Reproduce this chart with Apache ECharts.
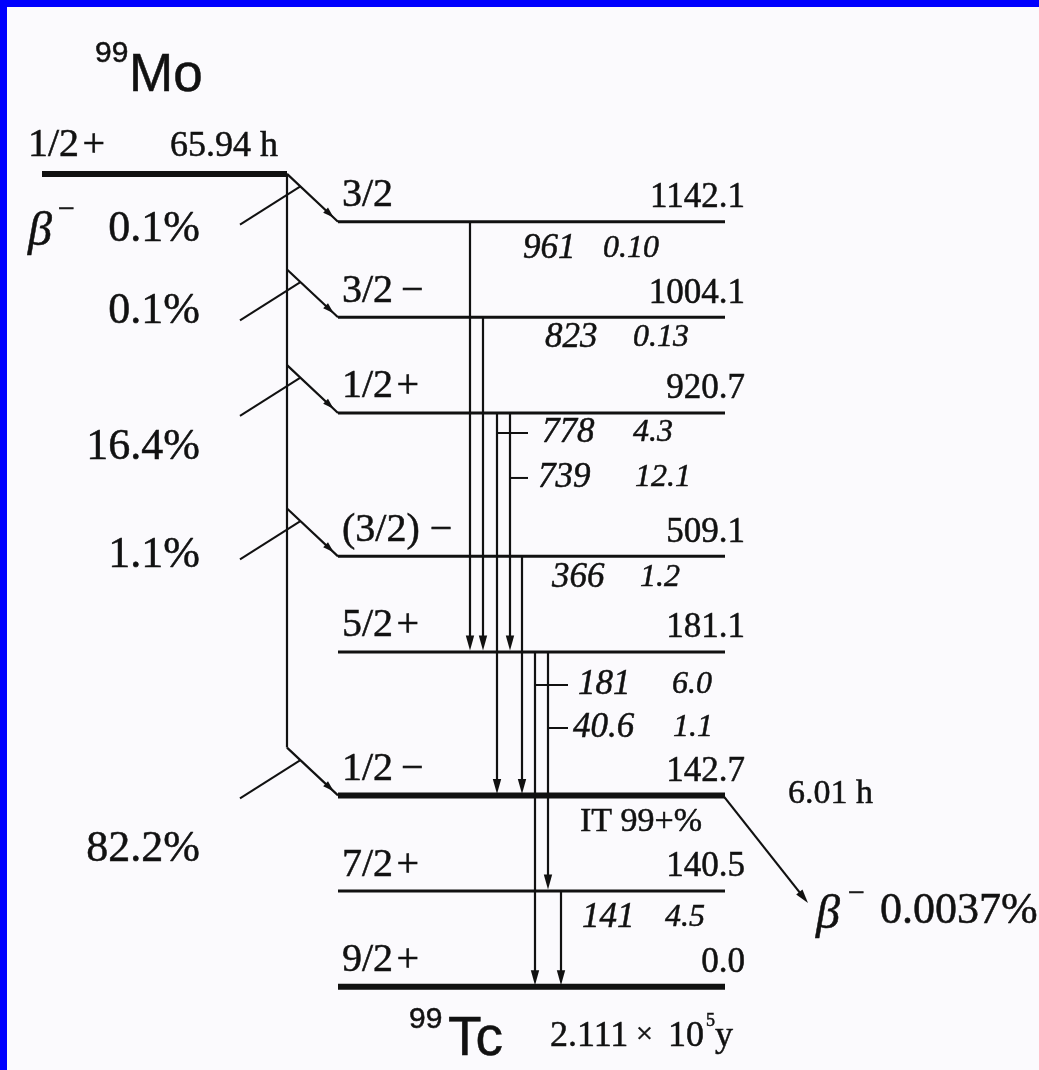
<!DOCTYPE html>
<html>
<head>
<meta charset="utf-8">
<script src="https://cdn.jsdelivr.net/npm/echarts@6/dist/echarts.min.js"></script>
<style>
html,body{margin:0;padding:0;background:#fbfafd;overflow:hidden;}
#chart{position:absolute;left:0;top:0;width:1039px;height:1070px;}
.bl{position:absolute;left:0;top:0;width:7px;height:1070px;background:#0000fe;}
.bt{position:absolute;left:0;top:0;width:1039px;height:7px;background:#0000fe;}
</style>
</head>
<body>
<div id="chart"></div><div class="bl"></div><div class="bt"></div>
<script>
// ---------------- data ----------------
const parentInfo = ['99', 'Mo', '1/2\u200a+', '65.94 h'];
const daughterInfo = ['99', 'Tc', '2.111', '×', '10', '5', 'y'];
const levelEnergy = ['1142.1', '1004.1', '920.7', '509.1', '181.1', '142.7', '140.5', '0.0'];
const levelSpin = ['3/2', '3/2\u2009−', '1/2\u200a+', '(3/2) −', '5/2\u200a+', '1/2\u2009−', '7/2\u200a+', '9/2\u200a+'];
const betaLevel = [0, 1, 2, 3, 5];
const betaFeeding = ['0.1%', '0.1%', '16.4%', '1.1%', '82.2%'];
const gammaFrom = [0, 1, 2, 2, 3, 4, 4, 6];
const gammaTo = [4, 4, 5, 4, 5, 7, 6, 7];
const gammaEnergy = ['961', '823', '778', '739', '366', '181', '40.6', '141'];
const gammaIntensity = ['0.10', '0.13', '4.3', '12.1', '1.2', '6.0', '1.1', '4.5'];
const isomerInfo = ['6.01 h', 'IT 99+%', '0.0037%'];

// ---------------- layout (schematic slots) ----------------
const levelRow = [0, 2, 4, 7, 9, 12, 14, 16];
const parentRow = -1;
const levelThick = [false, false, false, false, false, true, false, true];
const levelX = [338, 725];
const parentX = [42, 287];
const gammaCol = [470, 483, 497, 510, 522, 535, 548, 561];
const gammaLabelRow = [0.57, 2.43, 4.42, 5.36, 7.45, 9.69, 10.59, 14.56];
const gammaLabelX = [523, 545, 542, 538, 552, 578, 573, 582];
const gammaIntX = [603, 633, 633, 635, 640, 672, 673, 665];
const gammaTickEnd = [null, null, 528, 528, null, 568, 568, null];
const betaLabelRow = [0.17, 1.87, 4.72, 6.99, 13.12];
const betaLabelX = 200;
const isoArrowEnd = [808, 14.25];

const PX_PER_ROW = 47.81, ROW0_PX = 221.7, H = 1070;
const Y_MIN = -ROW0_PX / PX_PER_ROW, Y_MAX = (H - ROW0_PX) / PX_PER_ROW;

const INK = '#111111';
const SERIF = '"Liberation Serif", "Times New Roman", serif';
const SANS = '"Liberation Sans", Arial, sans-serif';

function seg(a, b, w) {
  return { type: 'line', shape: { x1: a[0], y1: a[1], x2: b[0], y2: b[1] }, style: { stroke: INK, lineWidth: w, lineCap: 'butt' } };
}
function arrowHead(tip, dir, len, half) {
  const bx = tip[0] - dir[0] * len, by = tip[1] - dir[1] * len;
  const nx = -dir[1], ny = dir[0];
  return { type: 'polygon', shape: { points: [tip, [bx + nx * half, by + ny * half], [bx - nx * half, by - ny * half]] }, style: { fill: INK } };
}
function txt(x, y, s, size, o) {
  o = o || {};
  return { type: 'text', x: x, y: y, style: { text: s, fill: INK, stroke: INK, lineWidth: 0.5, fontSize: size, fontFamily: o.family || SERIF,
    fontStyle: o.italic ? 'italic' : 'normal', align: o.align || 'left', verticalAlign: 'middle' } };
}
function unit(a, b) { const dx = b[0] - a[0], dy = b[1] - a[1], l = Math.hypot(dx, dy); return [dx / l, dy / l]; }

const chart = echarts.init(document.getElementById('chart'), null, { renderer: 'canvas' });

const option = {
  backgroundColor: '#fbfafd',
  animation: false,
  grid: { left: 0, right: 0, top: 0, bottom: 0 },
  xAxis: { type: 'value', min: 0, max: 1039, show: false },
  yAxis: { type: 'value', min: Y_MIN, max: Y_MAX, inverse: true, show: false },
  series: [
    { // daughter levels
      type: 'custom', name: 'levels', clip: false,
      data: levelEnergy.map((e, i) => [levelX[0], levelRow[i], i]),
      renderItem: function (params, api) {
        const i = api.value(2);
        const p1 = api.coord([levelX[0], levelRow[i]]);
        const p2 = api.coord([levelX[1], levelRow[i]]);
        return { type: 'group', children: [
          seg(p1, p2, levelThick[i] ? 6 : 3),
          txt(p1[0] + 4, p1[1] - 26, levelSpin[i], 40),
          txt(p2[0] + 20, p1[1] - 24, levelEnergy[i], 35, { align: 'right' })
        ] };
      }
    },
    { // parent level + titles
      type: 'custom', name: 'parent', clip: false,
      data: [[parentX[0], parentRow, 0]],
      renderItem: function (params, api) {
        const p1 = api.coord([parentX[0], parentRow]);
        const p2 = api.coord([parentX[1], parentRow]);
        const tc = api.coord([levelX[0], levelRow[7]]);
        return { type: 'group', children: [
          seg(p1, p2, 6),
          txt(28, p1[1] - 28, parentInfo[2], 40),
          txt(170, p1[1] - 27, parentInfo[3], 36),
          txt(95, p1[1] - 120, parentInfo[0], 30, { family: SANS }),
          txt(129, p1[1] - 97, parentInfo[1], 53, { family: SANS }),
          txt(409, tc[1] + 33, daughterInfo[0], 30, { family: SANS }),
          txt(448, tc[1] + 53, daughterInfo[1], 55, { family: SANS }),
          txt(550, tc[1] + 50, daughterInfo[2], 36),
          txt(636, tc[1] + 48, daughterInfo[3], 30),
          txt(668, tc[1] + 50, daughterInfo[4], 36),
          txt(706, tc[1] + 35, daughterInfo[5], 18),
          txt(715, tc[1] + 50, daughterInfo[6], 36)
        ] };
      }
    },
    { // beta branches
      type: 'custom', name: 'beta', clip: false,
      data: betaLevel.map((l, k) => [parentX[1], levelRow[l], k]),
      renderItem: function (params, api) {
        const k = api.value(2);
        const row = levelRow[betaLevel[k]];
        const start = api.coord([parentX[1], row - 1]);
        const end = api.coord([levelX[0], row]);
        const d = unit(start, end);
        const tip = [end[0] - d[0] * 6, end[1] - d[1] * 6];
        const lab = api.coord([betaLabelX, betaLabelRow[k]]);
        const ch = [
          seg(start, end, 2.2),
          arrowHead(tip, d, 11, 3.5),
          seg([end[0] - 98, end[1] + 3], [end[0] - 38, end[1] - 35], 2),
          txt(lab[0], lab[1], betaFeeding[k], 44, { align: 'right' })
        ];
        if (k === 0) {
          const top = api.coord([parentX[1], parentRow]);
          const bottom = api.coord([parentX[1], levelRow[betaLevel[betaLevel.length - 1]] - 1]);
          ch.push(seg(top, bottom, 2.2));
          ch.push(txt(28, lab[1] + 3, 'β', 48, { italic: true }));
          ch.push(txt(58, lab[1] - 20, '−', 30));
        }
        return { type: 'group', children: ch };
      }
    },
    { // gamma transitions
      type: 'custom', name: 'gamma', clip: false,
      data: gammaEnergy.map((g, i) => [gammaCol[i], levelRow[gammaFrom[i]], i]),
      renderItem: function (params, api) {
        const i = api.value(2);
        const top = api.coord([gammaCol[i], levelRow[gammaFrom[i]]]);
        const bot = api.coord([gammaCol[i], levelRow[gammaTo[i]]]);
        const tip = [bot[0], bot[1] - 1.5];
        const lab = api.coord([gammaLabelX[i], gammaLabelRow[i]]);
        const ix = api.coord([gammaIntX[i], gammaLabelRow[i]]);
        const ch = [
          seg(top, [tip[0], tip[1] - 10], 2.2),
          arrowHead(tip, [0, 1], 15, 4.2),
          txt(lab[0], lab[1], gammaEnergy[i], 35, { italic: true }),
          txt(ix[0], ix[1], gammaIntensity[i], 32, { italic: true })
        ];
        if (gammaTickEnd[i] !== null) {
          const te = api.coord([gammaTickEnd[i], gammaLabelRow[i]]);
          ch.push(seg([top[0], lab[1]], te, 2));
        }
        return { type: 'group', children: ch };
      }
    },
    { // isomer decay
      type: 'custom', name: 'isomer', clip: false,
      data: [[levelX[1], levelRow[5], 0]],
      renderItem: function (params, api) {
        const s = api.coord([levelX[1] - 2, levelRow[5]]);
        const e = api.coord(isoArrowEnd);
        const d = unit(s, e);
        return { type: 'group', children: [
          seg(s, [e[0] - d[0] * 10, e[1] - d[1] * 10], 2.2),
          arrowHead(e, d, 14, 4),
          txt(788, s[1] - 1, isomerInfo[0], 34),
          txt(580, s[1] + 27, isomerInfo[1], 34),
          txt(816, e[1] + 12, 'β', 48, { italic: true }),
          txt(848, e[1] - 9, '−', 30),
          txt(880, e[1] + 8, isomerInfo[2], 44)
        ] };
      }
    }
  ]
};
chart.setOption(option);
</script>
</body>
</html>
